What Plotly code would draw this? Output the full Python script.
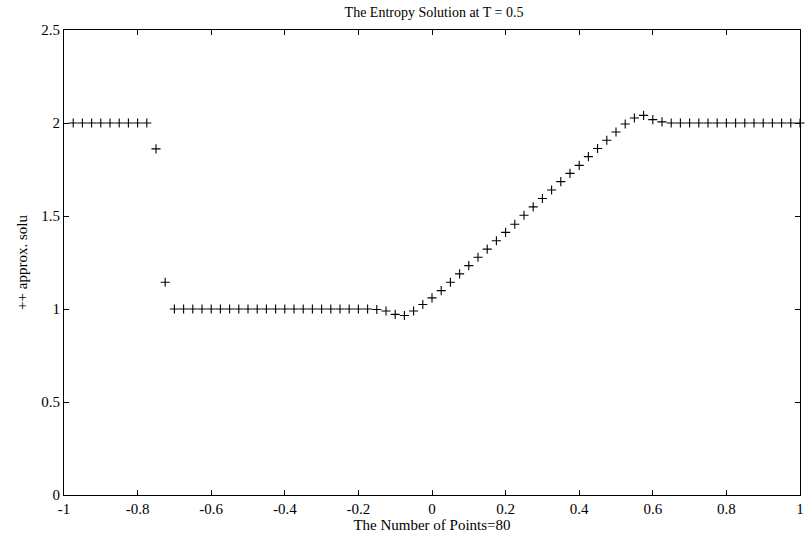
import plotly.graph_objects as go

x_points = [
    -0.975, -0.95, -0.925, -0.9, -0.875, -0.85, -0.825, -0.8, -0.775, -0.75,
    -0.725, -0.7, -0.675, -0.65, -0.625, -0.6, -0.575, -0.55, -0.525, -0.5,
    -0.475, -0.45, -0.425, -0.4, -0.375, -0.35, -0.325, -0.3, -0.275, -0.25,
    -0.225, -0.2, -0.175, -0.15, -0.125, -0.1, -0.075, -0.05, -0.025, 0.0,
    0.025, 0.05, 0.075, 0.1, 0.125, 0.15, 0.175, 0.2, 0.225, 0.25,
    0.275, 0.3, 0.325, 0.35, 0.375, 0.4, 0.425, 0.45, 0.475, 0.5,
    0.525, 0.55, 0.575, 0.6, 0.625, 0.65, 0.675, 0.7, 0.725, 0.75,
    0.775, 0.8, 0.825, 0.85, 0.875, 0.9, 0.925, 0.95, 0.975, 1.0,
]

approx_solu = [
    2.0, 2.0, 2.0, 2.0, 2.0, 2.0, 2.0, 2.0, 2.0, 1.861,
    1.144, 1.0, 1.0, 1.0, 1.0, 1.0, 1.0, 1.0, 1.0, 1.0,
    1.0, 1.0, 1.0, 1.0, 1.0, 1.0, 1.0, 1.0, 1.0, 1.0,
    1.0, 1.0, 1.0, 0.997, 0.989, 0.971, 0.965, 0.989, 1.024, 1.06,
    1.099, 1.144, 1.189, 1.233, 1.278, 1.322, 1.367, 1.412, 1.456, 1.504,
    1.549, 1.594, 1.640, 1.685, 1.729, 1.772, 1.819, 1.863, 1.907, 1.952,
    1.995, 2.027, 2.041, 2.018, 2.006, 2.0, 2.0, 2.0, 2.0, 2.0,
    2.0, 2.0, 2.0, 2.0, 2.0, 2.0, 2.0, 2.0, 2.0, 2.0,
]

x_ticks = [-1, -0.8, -0.6, -0.4, -0.2, 0, 0.2, 0.4, 0.6, 0.8, 1]
x_tick_labels = ["-1", "-0.8", "-0.6", "-0.4", "-0.2", "0", "0.2", "0.4", "0.6", "0.8", "1"]
y_ticks = [0, 0.5, 1, 1.5, 2, 2.5]
y_tick_labels = ["0", "0.5", "1", "1.5", "2", "2.5"]

FONT = "Liberation Serif"

fig = go.Figure()
fig.add_trace(go.Scatter(
    x=x_points, y=approx_solu, mode="markers",
    marker=dict(symbol="cross-thin", size=6.5, line=dict(color="black", width=1.1), color="black"),
    cliponaxis=False, showlegend=False,
))

axis_common = dict(
    showline=True, linecolor="black", linewidth=1, mirror="ticks",
    ticks="inside", ticklen=5, tickwidth=1, tickcolor="black",
    showgrid=False, zeroline=False,
    tickfont=dict(family=FONT, size=15, color="black"),
)

fig.update_xaxes(
    range=[-1, 1], tickvals=x_ticks, ticktext=x_tick_labels,
    title=dict(text="The Number of Points=80", font=dict(family=FONT, size=15, color="black"), standoff=2),
    **axis_common,
)
fig.update_yaxes(
    range=[0, 2.5], tickvals=y_ticks, ticktext=y_tick_labels,
    title=dict(text="++ approx. solu", font=dict(family=FONT, size=15, color="black"), standoff=10),
    **axis_common,
)

fig.update_layout(
    width=809, height=541,
    margin=dict(l=64, r=5, t=30, b=46),
    paper_bgcolor="white", plot_bgcolor="white",
    title=dict(text="The Entropy Solution at T = 0.5", x=0.5365, xanchor="center", y=0.978, yanchor="middle",
               font=dict(family=FONT, size=14, color="black")),
    font=dict(family=FONT, color="black"),
)

fig.write_html("out.html")
